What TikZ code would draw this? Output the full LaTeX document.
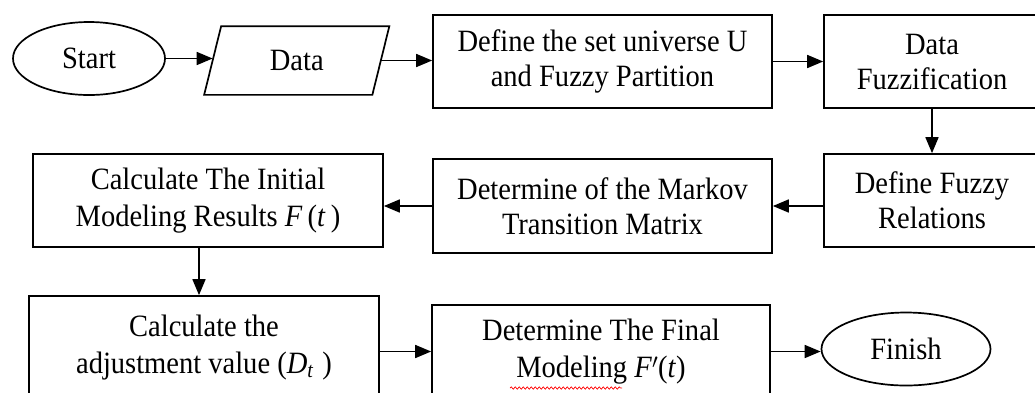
\documentclass[tikz,border=0pt]{standalone}
\usepackage{fontspec}
\setmainfont{Liberation Serif}[FakeStretch=0.92]
\usetikzlibrary{shapes.geometric,arrows.meta,decorations.pathmorphing}
\newcommand{\mvar}[1]{\textit{#1}}
\begin{document}
\begin{tikzpicture}[x=1pt,y=-1pt,
  every node/.style={font=\rmfamily\fontsize{31}{35}\selectfont, align=center, inner sep=0pt, line width=1.7pt},
  procbox/.style={draw, rectangle},
  term/.style={draw, ellipse},
  arr/.style={line width=1.7pt, -{Triangle[length=16pt,width=13pt]}}]
\useasboundingbox (0,0) rectangle (1035,392);
\clip (0,0) rectangle (1035,392);
% nodes
\node[term, minimum width=152pt, minimum height=73pt] (start) at (89,58.5) {Start};
\node[minimum width=166.5pt, minimum height=67pt] (data) at (296.75,60.5) {Data};
\draw[line width=1.7pt] ([xshift=-8.5pt]data.south west) -- ([xshift=-8.5pt]data.south east)
  -- ([xshift=8.5pt]data.north east) -- ([xshift=8.5pt]data.north west) -- cycle;
\node[procbox, minimum width=339pt, minimum height=93pt] (universe) at (602.5,61.5) {Define the set universe U\\and Fuzzy Partition};
\node[procbox, minimum width=216pt, minimum height=93pt] (fuzz) at (932,61.5) {Data\\Fuzzification};
\node[procbox, minimum width=216pt, minimum height=93pt] (rel) at (932,200.5) {Define Fuzzy\\Relations};
\node[procbox, minimum width=339pt, minimum height=94pt] (markov) at (602.5,206) {Determine of the Markov\\Transition Matrix};
\node[procbox, minimum width=350pt, minimum height=93pt] (init) at (208,200.5) {Calculate The Initial\\[2pt]Modeling Results \mvar{F}\,(\mvar{t}\,)};
\node[procbox, minimum width=350pt, minimum height=104pt] (adjust) at (204,348) {Calculate the\\[2pt]adjustment value (\mvar{D}\textsubscript{\mvar{t}}\;)};
\node[procbox, minimum width=338pt, minimum height=93pt] (final) at (601,351.5) {Determine The Final\\[2pt]Modeling \mvar{F}$'$(\mvar{t})};
\node[term, minimum width=169pt, minimum height=73pt] (finish) at (906,349) {Finish};
% connectors
\draw[arr] (start) -- (start.east -| data.west);
\draw[arr] (data.east) -- (data.east -| universe.west);
\draw[arr] (universe) -- (fuzz);
\draw[arr] (fuzz) -- (rel);
\draw[arr] (rel.west |- markov.east) -- (markov.east);
\draw[arr] (markov.west) -- (markov.west -| init.east);
\draw[arr] ([xshift=-9pt]init.south) -- ([xshift=-9pt]init.south |- adjust.north);
\draw[arr] (final.west -| adjust.east) -- (final.west);
\draw[arr] (final.east) -- (final.east -| finish.west);
% spell-check underline
\draw[red, line width=0.7pt, decorate, decoration={snake, amplitude=1.2pt, segment length=4pt}] (510,388) -- (622,388);
\end{tikzpicture}
\end{document}
